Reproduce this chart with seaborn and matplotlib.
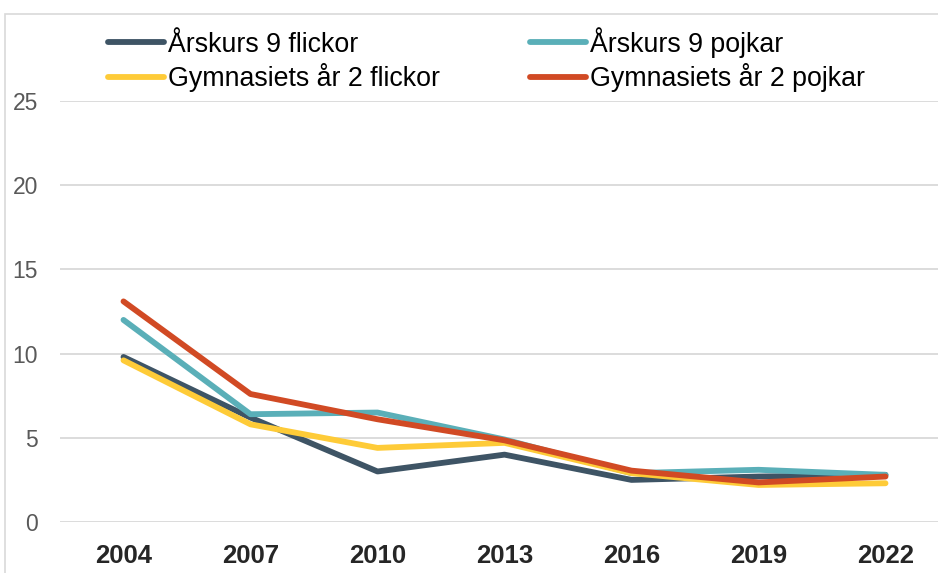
import matplotlib
matplotlib.use("Agg")
import matplotlib.pyplot as plt
import seaborn as sns
import pandas as pd
from matplotlib.patches import Rectangle
from matplotlib.lines import Line2D

years = ["2004", "2007", "2010", "2013", "2016", "2019", "2022"]
ak9_flickor = [9.8, 6.2, 3.0, 4.0, 2.5, 2.7, 2.8]
ak9_pojkar = [12.0, 6.4, 6.5, 4.9, 2.9, 3.1, 2.8]
gym2_flickor = [9.6, 5.8, 4.4, 4.7, 2.9, 2.2, 2.3]
gym2_pojkar = [13.1, 7.6, 6.1, 4.85, 3.05, 2.35, 2.7]
series_names = ["Årskurs 9 flickor", "Årskurs 9 pojkar",
                "Gymnasiets år 2 flickor", "Gymnasiets år 2 pojkar"]
y_ticks = [0, 5, 10, 15, 20, 25]

colors = ["#3E5465", "#5AAFB8", "#FECB38", "#D14A24"]

rows = []
for name, vals in zip(series_names, [ak9_flickor, ak9_pojkar, gym2_flickor, gym2_pojkar]):
    for i, (yr, v) in enumerate(zip(years, vals)):
        rows.append({"pos": i, "year": yr, "value": v, "series": name})
df = pd.DataFrame(rows)

sns.set_theme(style="white")
plt.rcParams["font.family"] = ["Liberation Sans", "DejaVu Sans"]

fig = plt.figure(figsize=(9.38, 5.73), dpi=100)
W, H = 938, 573
ax = fig.add_axes([60 / W, 1 - 522 / H, (949 - 60) / W, (522 - 101) / H])

sns.lineplot(data=df, x="pos", y="value", hue="series", hue_order=series_names,
             palette=colors, linewidth=4.2, ax=ax, legend=False, sort=False)

ax.set_xlim(-0.5, len(years) - 0.5)
ax.set_ylim(0, 25)
ax.set_yticks(y_ticks)
ax.set_yticklabels([str(t) for t in y_ticks], fontsize=16.5, color="#595959")
ax.set_xticks(range(len(years)))
ax.set_xticklabels(years, fontsize=18.5, fontweight="bold", color="#262626")
ax.tick_params(axis="y", length=0, pad=16)
ax.tick_params(axis="x", length=0, pad=16)
for s in ax.spines.values():
    s.set_visible(False)
ax.grid(axis="y", color="#D9D9D9", linewidth=1.3)
ax.set_axisbelow(True)
ax.set_xlabel("")
ax.set_ylabel("")
for ln in ax.get_lines():
    ln.set_solid_capstyle("round")

handles = [Line2D([0], [0], color=c, lw=4.2, solid_capstyle="round") for c in colors]
order = [0, 2, 1, 3]
leg = fig.legend([handles[i] for i in order], [series_names[i] for i in order],
                 loc="upper left", ncol=2,
                 bbox_to_anchor=(108 / W, 1 - 27 / H), frameon=False,
                 fontsize=19.3, handlelength=2.09, handletextpad=0.15,
                 columnspacing=3.36, labelspacing=0.2,
                 borderpad=0, borderaxespad=0)
for t in leg.get_texts():
    t.set_color("#000000")

fig.patches.append(Rectangle((5 / W, -0.1), 1.2, 1 - 14 / H + 0.1,
                             transform=fig.transFigure, fill=False,
                             edgecolor="#D9D9D9", linewidth=1.2))

fig.savefig("out.png", dpi=100)
